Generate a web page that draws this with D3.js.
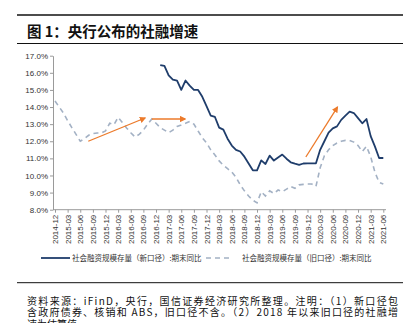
<!DOCTYPE html>
<html><head><meta charset="utf-8">
<script src="https://cdn.jsdelivr.net/npm/d3@7"></script>
<style>body{margin:0;background:#fff}svg{display:block}</style>
</head><body>
<svg id="c" width="417" height="323"></svg>
<script>
// ---- data ----
const startMonth = "2014-12";
const tickLabels = ["2014-12","2015-03","2015-06","2015-09","2015-12","2016-03","2016-06","2016-09","2016-12","2017-03","2017-06","2017-09","2017-12","2018-03","2018-06","2018-09","2018-12","2019-03","2019-06","2019-09","2019-12","2020-03","2020-06","2020-09","2020-12","2021-03","2021-06"];
const yTicks = [8,9,10,11,12,13,14,15,16,17];
// old caliber, monthly from 2014-12
const oldCaliber = [14.35,14.0,13.65,13.2,12.8,12.4,12.0,12.15,12.35,12.45,12.48,12.48,12.6,13.05,12.97,13.4,13.1,12.78,12.5,12.25,12.4,12.65,13.0,13.3,13.05,12.8,12.65,12.5,12.65,12.87,12.95,13.05,13.16,13.0,12.6,12.2,11.9,11.5,11.2,10.85,10.6,10.4,10.2,9.9,9.45,9.1,8.8,8.55,8.4,9.05,8.8,9.1,8.95,9.15,9.05,9.2,9.36,9.25,9.45,9.48,9.5,9.5,9.36,10.45,11.15,11.5,11.75,11.9,12.0,12.05,12.05,11.95,11.75,11.4,11.7,11.1,10.2,9.6,9.5];
// new caliber, monthly from 2017-01
const newStart = "2017-01";
const newCaliber = [16.45,16.4,15.85,15.6,15.55,15.0,15.55,15.25,15.0,15.0,14.6,14.05,13.5,13.42,12.8,12.68,12.15,11.75,11.5,11.4,11.1,10.7,10.3,10.3,10.88,10.67,11.16,10.87,11.05,11.22,10.98,10.77,10.69,10.62,10.7,10.71,10.71,10.71,11.5,12.0,12.5,12.75,12.87,13.25,13.5,13.73,13.65,13.35,13.05,13.3,12.3,11.7,11.02,11.02];
// trend arrows (month offset from start, value)
const arrows = [
  {from:[7.9,12.0], to:[21.4,13.36]},
  {from:[23,13.3], to:[30.9,13.3]},
  {from:[59.6,11.08], to:[67.1,14.0]}
];
const legendNames = ["社会融资规模存量（新口径）:期末同比","社会融资规模存量（旧口径）:期末同比"];

// ---- layout ----
const svg = d3.select("#c");
const fmt = d3.timeFormat("%Y-%m"), parse = d3.timeParse("%Y-%m");
const t0 = parse(startMonth);
const months = d3.timeMonth.range(t0, d3.timeMonth.offset(t0, oldCaliber.length)).map(fmt);
const x = d3.scalePoint().domain(months).range([55, 383.3]);
const y = d3.scaleLinear().domain([8,17]).range([209.7, 55.7]);
const navy = "#1f3d6b", gray = "#a3b1c4", orange = "#ec7a2a", axisC = "#9a9a9a";

// header
svg.append("line").attr("x1",17).attr("x2",403).attr("y1",15).attr("y2",15).attr("stroke","#111").attr("stroke-width",1.5);
svg.append("text").attr("x",27).attr("y",37).attr("font-family","'Noto Sans CJK SC'").attr("font-weight","bold").attr("font-size",14.5).attr("fill","#111").text("图 1：央行公布的社融增速");
svg.append("line").attr("x1",17).attr("x2",403).attr("y1",43.5).attr("y2",43.5).attr("stroke","#111").attr("stroke-width",1);

// axes
const yAxis = d3.axisLeft(y).tickValues(yTicks).tickFormat(d=>d.toFixed(1)+"%").tickSize(3).tickSizeOuter(0);
const gy = svg.append("g").attr("transform","translate(53,0)").call(yAxis);
gy.select(".domain").attr("stroke",axisC);
gy.selectAll(".tick line").attr("stroke",axisC);
gy.selectAll("text").attr("font-family","'Liberation Sans',Arial").attr("font-size",8).attr("fill","#333").attr("x",-5);

const xAxis = d3.axisBottom(x).tickValues(tickLabels).tickSize(3).tickSizeOuter(0);
const gx = svg.append("g").attr("transform","translate(0,209.7)").call(xAxis);
gx.select(".domain").attr("stroke",axisC).attr("d","M53,0H386");
gx.selectAll(".tick line").attr("stroke",axisC);
gx.selectAll("text").attr("font-family","'Liberation Sans',Arial").attr("font-size",8).attr("fill","#333")
  .attr("transform","rotate(-90)").attr("text-anchor","end").attr("x",-5).attr("y",0).attr("dy","0.32em");

// lines
const line = d3.line().x(d=>x(d[0])).y(d=>y(d[1]));
const oldPts = oldCaliber.map((v,i)=>[months[i],v]);
const nOff = months.indexOf(newStart);
const newPts = newCaliber.map((v,i)=>[months[nOff+i],v]);
svg.append("path").attr("d",line(oldPts)).attr("fill","none").attr("stroke",gray).attr("stroke-width",1.6).attr("stroke-dasharray","5,4");
svg.append("path").attr("d",line(newPts)).attr("fill","none").attr("stroke",navy).attr("stroke-width",1.8).attr("stroke-linejoin","round");

// arrows
const step = x.step();
const xm = m => x(months[0]) + m*step;
svg.append("defs").append("marker").attr("id","ah").attr("viewBox","0 0 10 10").attr("refX",8).attr("refY",5)
  .attr("markerWidth",5).attr("markerHeight",5).attr("markerUnits","strokeWidth").attr("orient","auto")
  .append("path").attr("d","M0,0L10,5L0,10z").attr("fill",orange);
arrows.forEach(a=>{
  svg.append("line").attr("x1",xm(a.from[0])).attr("y1",y(a.from[1])).attr("x2",xm(a.to[0])).attr("y2",y(a.to[1]))
    .attr("stroke",orange).attr("stroke-width",1.3).attr("marker-end","url(#ah)");
});

// legend
const lg = svg.append("g").attr("font-family","'Noto Sans CJK SC'").attr("font-size",7.5).attr("fill","#333");
lg.append("line").attr("x1",41).attr("x2",70).attr("y1",258).attr("y2",258).attr("stroke",navy).attr("stroke-width",1.8);
lg.append("text").attr("x",72).attr("y",260.7).text(legendNames[0]);
lg.append("line").attr("x1",206).attr("x2",233).attr("y1",258).attr("y2",258).attr("stroke",gray).attr("stroke-width",1.6).attr("stroke-dasharray","5,4");
lg.append("text").attr("x",242).attr("y",260.7).text(legendNames[1]);

// footer
svg.append("line").attr("x1",17).attr("x2",403).attr("y1",282.7).attr("y2",282.7).attr("stroke","#111").attr("stroke-width",1);
const foot = ["资料来源：iFinD，央行，国信证券经济研究所整理。注明：（1）新口径包","含政府债券、核销和 ABS，旧口径不含。（2）2018 年以来旧口径的社融增","速为估算值"];
foot.forEach((t,i)=>{
  const tx = svg.append("text").attr("x",27).attr("y",305.2+i*11.2).attr("font-family","'Noto Sans CJK SC'").attr("font-size",10).attr("fill","#111").text(t);
  if(i<2) tx.attr("textLength",371).attr("lengthAdjust","spacing");
});
</script>
</body></html>
